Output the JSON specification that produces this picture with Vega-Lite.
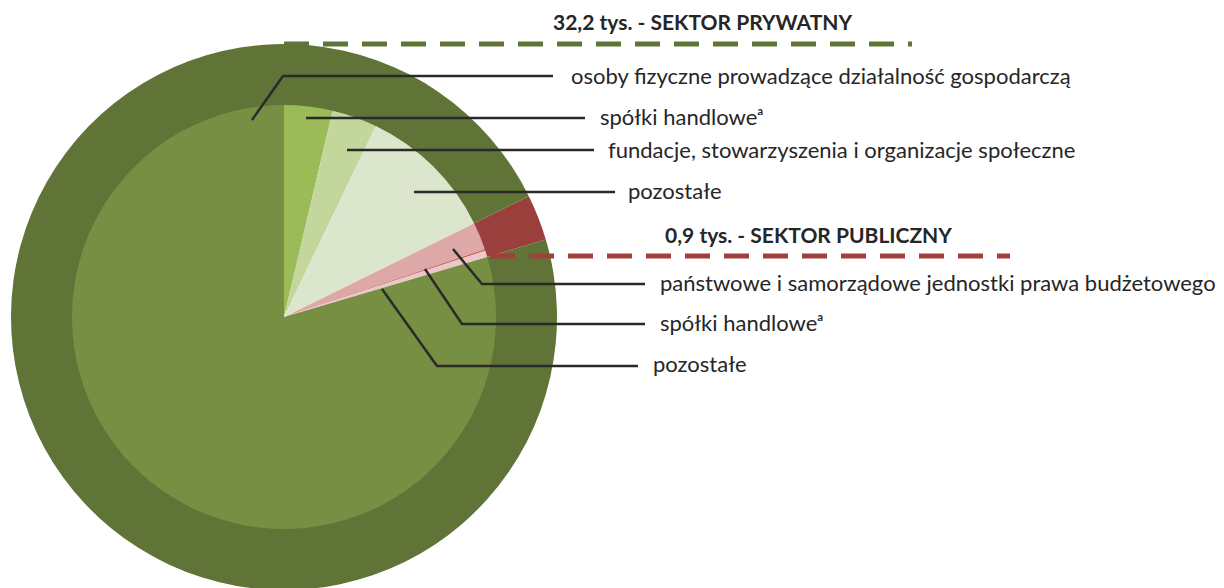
{
  "$schema": "https://vega.github.io/schema/vega-lite/v6.json",
  "width": 1224,
  "height": 588,
  "padding": 0,
  "autosize": {"type": "none"},
  "background": "white",
  "config": {"view": {"stroke": null}, "font": "Lato"},
  "datasets": {
    "sectors": [
      {"key": "publiczny", "value": 0.9, "ord": 1},
      {"key": "prywatny", "value": 32.2, "ord": 2}
    ],
    "forms": [
      {"key": "pub_jpb", "sektor": "publiczny", "forma": "państwowe i samorządowe jednostki prawa budżetowego", "value": 0.70, "ord": 1},
      {"key": "pub_sh", "sektor": "publiczny", "forma": "spółki handlowe", "value": 0.04, "ord": 2},
      {"key": "pub_poz", "sektor": "publiczny", "forma": "pozostałe", "value": 0.16, "ord": 3},
      {"key": "pr_of", "sektor": "prywatny", "forma": "osoby fizyczne prowadzące działalność gospodarczą", "value": 26.34, "ord": 4},
      {"key": "pr_sh", "sektor": "prywatny", "forma": "spółki handlowe", "value": 1.22, "ord": 5},
      {"key": "pr_fund", "sektor": "prywatny", "forma": "fundacje, stowarzyszenia i organizacje społeczne", "value": 1.14, "ord": 6},
      {"key": "pr_poz", "sektor": "prywatny", "forma": "pozostałe", "value": 3.50, "ord": 7}
    ],
    "leaders": [
      {"g": 1, "i": 0, "x": 252, "y": 120}, {"g": 1, "i": 1, "x": 283, "y": 76}, {"g": 1, "i": 2, "x": 553, "y": 76},
      {"g": 2, "i": 0, "x": 306, "y": 118}, {"g": 2, "i": 1, "x": 585, "y": 118},
      {"g": 3, "i": 0, "x": 347, "y": 150}, {"g": 3, "i": 1, "x": 594, "y": 150},
      {"g": 4, "i": 0, "x": 414, "y": 192}, {"g": 4, "i": 1, "x": 615, "y": 192},
      {"g": 5, "i": 0, "x": 453, "y": 249}, {"g": 5, "i": 1, "x": 482, "y": 284}, {"g": 5, "i": 2, "x": 645, "y": 284},
      {"g": 6, "i": 0, "x": 425, "y": 269}, {"g": 6, "i": 1, "x": 462, "y": 324}, {"g": 6, "i": 2, "x": 645, "y": 324},
      {"g": 7, "i": 0, "x": 382, "y": 289}, {"g": 7, "i": 1, "x": 437, "y": 366}, {"g": 7, "i": 2, "x": 638, "y": 366}
    ],
    "dashes": [
      {"key": "prywatny", "x1": 284, "x2": 912, "y": 44},
      {"key": "publiczny", "x1": 490, "x2": 1010, "y": 256}
    ],
    "labels": [
      {"t": "osoby fizyczne prowadzące działalność gospodarczą", "x": 571, "y": 77},
      {"t": "spółki handloweᵃ", "x": 600, "y": 118},
      {"t": "fundacje, stowarzyszenia i organizacje społeczne", "x": 608, "y": 151},
      {"t": "pozostałe", "x": 628, "y": 192},
      {"t": "państwowe i samorządowe jednostki prawa budżetowego", "x": 660, "y": 284},
      {"t": "spółki handloweᵃ", "x": 660, "y": 324},
      {"t": "pozostałe", "x": 653, "y": 365}
    ],
    "titles": [
      {"t": "32,2 tys. - SEKTOR PRYWATNY", "x": 553, "y": 24},
      {"t": "0,9 tys. - SEKTOR PUBLICZNY", "x": 665, "y": 237}
    ]
  },
  "resolve": {"scale": {"color": "independent"}},
  "layer": [
    {
      "data": {"name": "sectors"},
      "mark": {"type": "arc", "outerRadius": 273, "innerRadius": 211},
      "encoding": {
        "x": {"datum": 284, "type": "quantitative", "scale": {"domain": [0, 1224], "nice": false, "zero": false}, "axis": null},
        "y": {"datum": 317, "type": "quantitative", "scale": {"domain": [0, 588], "nice": false, "zero": false, "reverse": true}, "axis": null},
        "theta": {"field": "value", "type": "quantitative", "stack": true, "scale": {"range": [1.1125, 7.3957]}},
        "order": {"field": "ord", "type": "quantitative"},
        "color": {"field": "key", "type": "nominal", "scale": {"domain": ["publiczny", "prywatny"], "range": ["#9b3f3c", "#5f7436"]}, "legend": null}
      }
    },
    {
      "data": {"name": "forms"},
      "mark": {"type": "arc", "outerRadius": 212},
      "encoding": {
        "x": {"datum": 284, "type": "quantitative"},
        "y": {"datum": 317, "type": "quantitative"},
        "theta": {"field": "value", "type": "quantitative", "stack": true},
        "order": {"field": "ord", "type": "quantitative"},
        "color": {"field": "key", "type": "nominal", "scale": {"domain": ["pub_jpb", "pub_sh", "pub_poz", "pr_of", "pr_sh", "pr_fund", "pr_poz"], "range": ["#dea8a8", "#c9605d", "#ebc8c8", "#778f42", "#9bbb59", "#c3d69b", "#dce6cd"]}, "legend": null}
      }
    },
    {
      "data": {"name": "leaders"},
      "mark": {"type": "line", "color": "#2a2a2a", "strokeWidth": 2.5, "strokeCap": "butt"},
      "encoding": {
        "x": {"field": "x", "type": "quantitative"},
        "y": {"field": "y", "type": "quantitative"},
        "detail": {"field": "g", "type": "nominal"},
        "order": {"field": "i", "type": "quantitative"}
      }
    },
    {
      "data": {"name": "dashes"},
      "mark": {"type": "rule", "strokeWidth": 5, "strokeDash": [25, 14], "strokeCap": "butt"},
      "encoding": {
        "x": {"field": "x1", "type": "quantitative"},
        "x2": {"field": "x2"},
        "y": {"field": "y", "type": "quantitative"},
        "color": {"field": "key", "type": "nominal", "scale": {"domain": ["prywatny", "publiczny"], "range": ["#5f7436", "#a13f3c"]}, "legend": null}
      }
    },
    {
      "data": {"name": "labels"},
      "mark": {"type": "text", "align": "left", "baseline": "middle", "fontSize": 22, "color": "#262626", "font": "Lato"},
      "encoding": {
        "x": {"field": "x", "type": "quantitative"},
        "y": {"field": "y", "type": "quantitative"},
        "text": {"field": "t"}
      }
    },
    {
      "data": {"name": "titles"},
      "mark": {"type": "text", "align": "left", "baseline": "middle", "fontSize": 21, "fontWeight": "bold", "color": "#262626", "font": "Lato"},
      "encoding": {
        "x": {"field": "x", "type": "quantitative"},
        "y": {"field": "y", "type": "quantitative"},
        "text": {"field": "t"}
      }
    }
  ]
}
